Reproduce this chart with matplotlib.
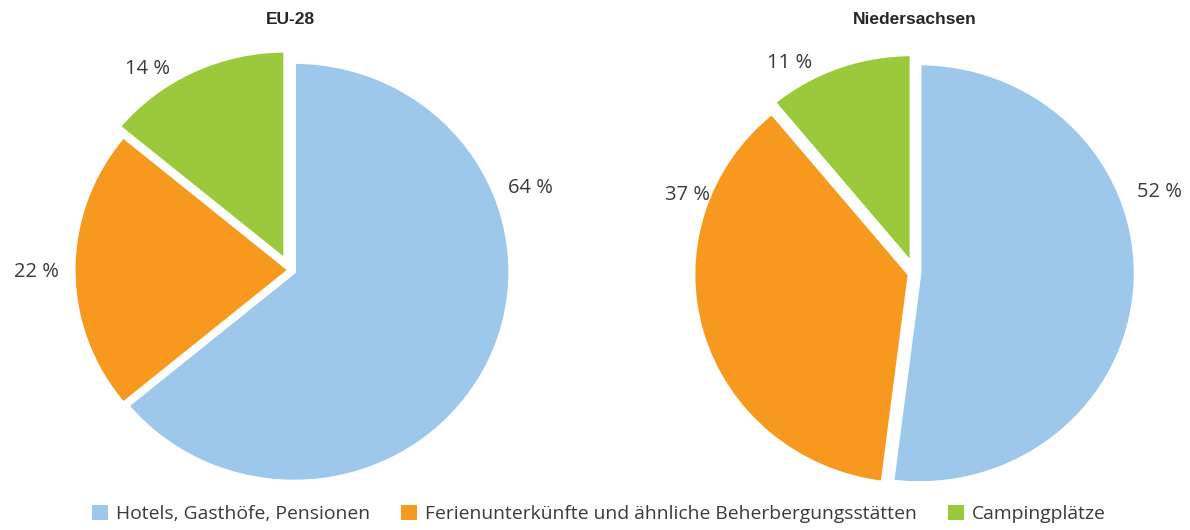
import matplotlib
matplotlib.use("Agg")
import matplotlib.pyplot as plt
from matplotlib.patches import Patch

plt.rcParams['font.family'] = ['Open Sans', 'DejaVu Sans']
plt.rcParams['font.stretch'] = 'normal'

# ---- data ----
categories = ["Hotels, Gasthöfe, Pensionen",
              "Ferienunterkünfte und ähnliche Beherbergungsstätten",
              "Campingplätze"]
eu28_values = [64, 22, 14]
nds_values = [52, 37, 11]
titles = ["EU-28", "Niedersachsen"]
eu28_labels = ["64 %", "22 %", "14 %"]
nds_labels = ["52 %", "37 %", "11 %"]

# ---- styles ----
colors = ["#9DC8EB", "#F7991E", "#9ACA3C"]
text_color = "#3a3a3a"
W, H = 1190, 530
fig = plt.figure(figsize=(W / 100, H / 100), dpi=100)

SX, SY = 216.5, 210.0   # px per data unit (image is slightly stretched horizontally)


def make_axes(x0, x1, cx, cy):
    ax = fig.add_axes([x0 / W, 0, (x1 - x0) / W, 1])
    return ax, ((x0 - cx) / SX, (x1 - cx) / SX), ((0 - (H - cy)) / SY, (H - (H - cy)) / SY)


specs = [
    dict(x0=0, x1=600, cx=290, cy=270, values=eu28_values, labels=eu28_labels,
         explode=[0.02, 0.0, 0.05],
         label_pos=[(1.11, 0.39), (-1.17, -0.01), (-0.66, 0.955)], title=titles[0]),
    dict(x0=600, x1=1190, cx=915, cy=273, values=nds_values, labels=nds_labels,
         explode=[0.02, 0.025, 0.045],
         label_pos=[(1.13, 0.385), (-1.05, 0.37), (-0.58, 1.0)], title=titles[1]),
]

for s in specs:
    ax, xl, yl = make_axes(s['x0'], s['x1'], s['cx'], s['cy'])
    ax.pie(s['values'], colors=colors, startangle=90, counterclock=False,
           explode=s['explode'], radius=1.0,
           wedgeprops=dict(edgecolor='white', linewidth=3.0, joinstyle='miter'))
    ax.set_aspect('auto')
    ax.set_xlim(*xl)
    ax.set_ylim(*yl)
    ax.axis('off')
    for lab, (lx, ly) in zip(s['labels'], s['label_pos']):
        ax.text(lx, ly, lab, ha='center', va='center', fontsize=14.5,
                fontstretch='normal', color=text_color)
    fig.text(s['cx'] / W, 1 - 20 / H, s['title'], ha='center', va='center',
             fontsize=12.5, fontweight='bold', color='#262626',
             family=['Liberation Sans', 'DejaVu Sans'])

handles = [Patch(facecolor=c, edgecolor='none') for c in colors]
fig.legend(handles, categories, loc='center', bbox_to_anchor=(0.503, 1 - 514 / H),
           ncol=3, frameon=False, fontsize=13.9, handlelength=0.85, handleheight=0.85,
           handletextpad=0.4, columnspacing=1.6, labelcolor=text_color,
           borderaxespad=0, borderpad=0)

fig.savefig("out.png", dpi=100)
